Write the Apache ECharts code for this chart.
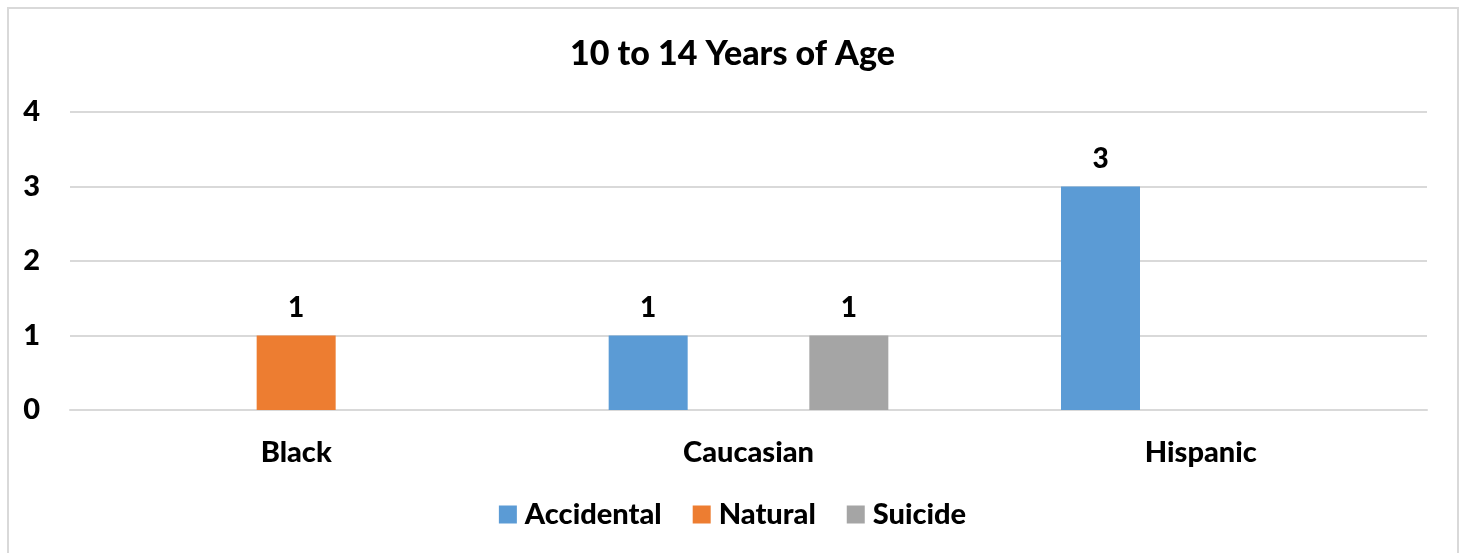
<!DOCTYPE html>
<html>
<head>
<meta charset="utf-8">
<script src="https://cdn.jsdelivr.net/npm/echarts@6/dist/echarts.min.js"></script>
<style>
  html, body { margin: 0; padding: 0; background: #fff; }
  #chart { width: 1465px; height: 553px; }
  .frame {
    position: absolute; left: 7px; top: 7px; width: 1448px; height: 560px;
    border: 2px solid #d9d9d9; pointer-events: none;
  }
</style>
</head>
<body>
<div id="chart"></div>
<div class="frame"></div>
<script>
// data
const categories = ['Black', 'Caucasian', 'Hispanic']
const accidental = [0, 1, 3]
const natural = [1, 0, 0]
const suicide = [0, 1, 0]

const fontFamily = 'Lato, "Open Sans", sans-serif'
const colors = ['#5B9BD5', '#ED7D31', '#A5A5A5']

// zero bars get no label
const barLabel = {
  show: true,
  position: 'top',
  distance: 14,
  color: '#000',
  fontSize: 28,
  fontWeight: 900,
  fontFamily: fontFamily,
  formatter: p => (p.value === 0 ? '' : p.value)
}

const chart = echarts.init(document.getElementById('chart'))
chart.setOption({
  animation: false,
  color: colors,
  title: {
    text: '10 to 14 Years of Age',
    left: 'center',
    top: 32,
    textStyle: { fontSize: 34, fontWeight: 900, color: '#000', fontFamily: fontFamily }
  },
  legend: {
    bottom: 19,
    left: 'center',
    itemWidth: 18,
    itemHeight: 18,
    itemGap: 31,
    icon: 'rect',
    textStyle: { fontSize: 29, fontWeight: 900, color: '#000', fontFamily: fontFamily, padding: [0, 0, 0, 3] }
  },
  grid: { left: 70, right: 38, top: 112, bottom: 143 },
  xAxis: {
    type: 'category',
    data: categories,
    axisLine: { lineStyle: { color: '#d9d9d9', width: 2 } },
    axisTick: { show: false },
    axisLabel: { margin: 28, fontSize: 29, fontWeight: 900, color: '#000', fontFamily: fontFamily }
  },
  yAxis: {
    type: 'value',
    min: 0,
    max: 4,
    interval: 1,
    axisLine: { show: false },
    axisTick: { show: false },
    splitLine: { lineStyle: { color: '#d9d9d9', width: 2 } },
    axisLabel: { margin: 30, fontSize: 29, fontWeight: 900, color: '#000', fontFamily: fontFamily }
  },
  series: [
    { name: 'Accidental', type: 'bar', data: accidental, barWidth: 79, barGap: '27%', label: barLabel },
    { name: 'Natural', type: 'bar', data: natural, barWidth: 79, label: barLabel },
    { name: 'Suicide', type: 'bar', data: suicide, barWidth: 79, label: barLabel }
  ]
})
</script>
</body>
</html>
